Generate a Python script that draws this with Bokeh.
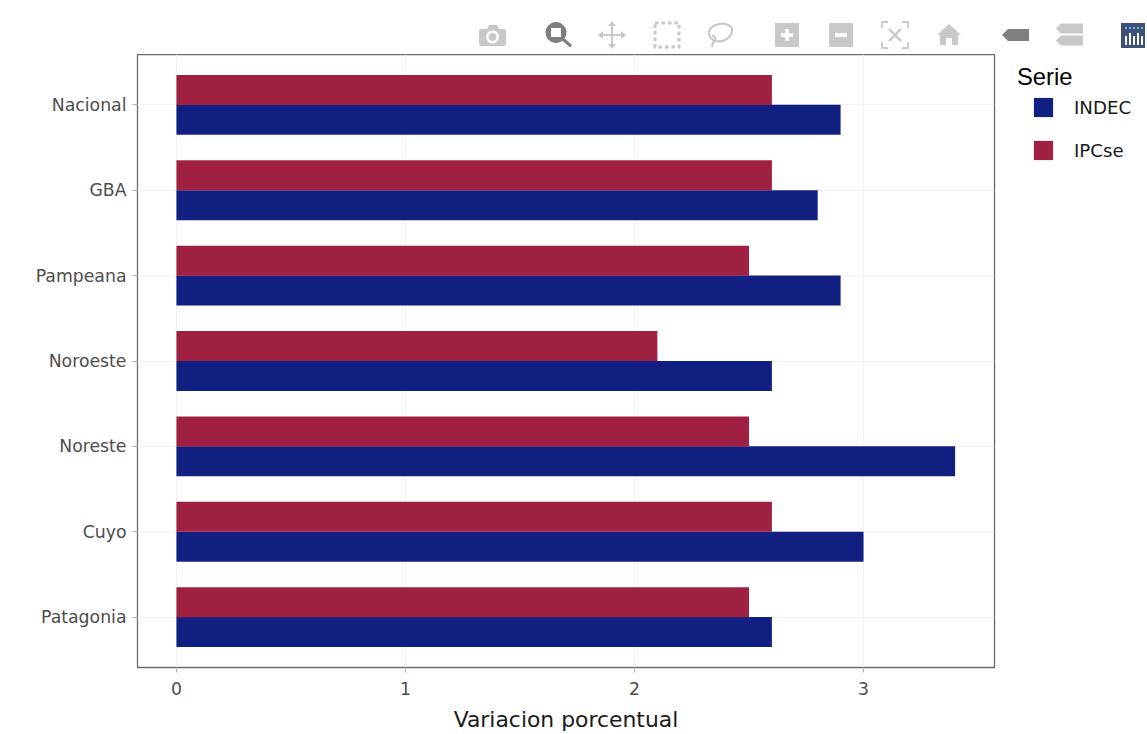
from bokeh.plotting import figure
from bokeh.models import (FactorRange, Range1d, Legend, LegendItem, Div,
                          FixedTicker, ColumnDataSource)
from bokeh.layouts import column
from bokeh.transform import dodge
from bokeh.embed import file_html
from bokeh.resources import INLINE

regions = ["Nacional", "GBA", "Pampeana", "Noroeste", "Noreste", "Cuyo", "Patagonia"]
indec = [2.9, 2.8, 2.9, 2.6, 3.4, 3.0, 2.6]
ipcse = [2.6, 2.6, 2.5, 2.1, 2.5, 2.6, 2.5]
x_ticks = [0, 1, 2, 3]
series_names = ["INDEC", "IPCse"]
series_colors = ["#111F81", "#A02042"]
legend_title = "Serie"
FONT = "DejaVu Sans"

source = ColumnDataSource(dict(region=regions, INDEC=indec, IPCse=ipcse))

p = figure(
    width=1147, height=680, frame_width=857, frame_height=613,
    min_border_left=137, min_border_top=0, min_border_right=153, min_border_bottom=67,
    x_range=Range1d(-0.17, 3.572),
    y_range=FactorRange(factors=regions[::-1], range_padding=0.09,
                        range_padding_units="absolute", factor_padding=0),
    output_backend="svg", toolbar_location=None, background_fill_color="white",
    border_fill_color="white", border_fill_alpha=0,
)

r1 = p.hbar(y=dodge("region", -0.175, range=p.y_range), left=0, right="INDEC", height=0.352,
            source=source, fill_color=series_colors[0], line_color=None)
r2 = p.hbar(y=dodge("region", 0.175, range=p.y_range), left=0, right="IPCse", height=0.352,
            source=source, fill_color=series_colors[1], line_color=None)

p.outline_line_color = "#6b6b6b"
p.outline_line_width = 1.3

p.xgrid.grid_line_color = "#f2f2f2"
p.ygrid.grid_line_color = "#f2f2f2"
p.xgrid.ticker = FixedTicker(ticks=x_ticks)

for ax in (p.xaxis[0], p.yaxis[0]):
    ax.axis_line_color = None
    ax.major_tick_line_color = "#b3b3b3"
    ax.major_tick_line_width = 1
    ax.major_tick_in = 0
    ax.major_tick_out = 5
    ax.minor_tick_line_color = None
    ax.major_label_text_font = FONT
    ax.major_label_text_font_size = "17.3px"
    ax.major_label_text_color = "#4d4d4d"
    ax.major_label_standoff = 6

p.xaxis[0].ticker = FixedTicker(ticks=x_ticks)
p.xaxis[0].major_label_standoff = 9
p.xaxis.axis_label = "Variacion porcentual"
p.xaxis.axis_label_text_font = FONT
p.xaxis.axis_label_text_font_style = "normal"
p.xaxis.axis_label_text_font_size = "21.9px"
p.xaxis.axis_label_text_color = "#1a1a1a"
p.xaxis.axis_label_standoff = 9

legend = Legend(
    items=[LegendItem(label=series_names[0], renderers=[r1]),
           LegendItem(label=series_names[1], renderers=[r2])],
    location=(37, 505), orientation="vertical", padding=0, margin=0, spacing=19,
    glyph_width=24, glyph_height=24, label_standoff=19, border_line_color=None,
    background_fill_alpha=0, label_text_font=FONT, label_text_font_size="18.2px",
    label_text_color="#1a1a1a", label_height=24,
)
p.add_layout(legend, "right")

# Mode bar drawn as inline SVG, in page pixels; the legend heading overflows it downward
G = "#c8c8c8"
D = "#7f7f7f"
icons = f'''
<svg xmlns="http://www.w3.org/2000/svg" width="1147" height="100" viewBox="0 0 1147 100" style="display:block;overflow:visible;position:relative;z-index:10">
 <text x="1017" y="85" font-family="DejaVu Sans" font-size="23.800" fill="#000000">{legend_title}</text>
 <g fill="{G}">
  <path fill-rule="evenodd" d="M481 29h6l2-4h8l2 4h5a2 2 0 0 1 2 2v13a2 2 0 0 1-2 2h-23a2 2 0 0 1-2-2V31a2 2 0 0 1 2-2zM492.500 30.500a6.500 6.500 0 1 0 .01 0zM492.500 33a4 4 0 1 1-.01 0z"/>
 </g>
 <g fill="{D}" stroke="none">
  <path fill-rule="evenodd" d="M556 22a10.500 10.500 0 1 0 .01 0zM551 28h10v9h-10z"/>
  <path d="M563 37l9 8-2 2.500-9-8z"/>
 </g>
 <g fill="none" stroke="{G}" stroke-width="2.200">
  <path d="M612 23v24M600 35h24"/>
 </g>
 <g fill="{G}">
  <path d="M612 21l4 5h-8zM612 49l4-5h-8zM598 35l5-4v8zM626 35l-5-4v8z"/>
 </g>
 <rect x="655" y="23" width="24" height="24" fill="none" stroke="{G}" stroke-width="3" stroke-dasharray="3.500 3"/>
 <g fill="none" stroke="{G}" stroke-width="2.200">
  <path d="M716 41c8 2 16-4 16-11 0-5-7-7-13-6-6 1-11 5-10 10 .5 3 3 6 7 7z"/>
  <path d="M712 36a3 3 0 1 1 1 6M713 42l-1 5"/>
 </g>
 <g fill="{G}">
  <path fill-rule="evenodd" d="M775 23h24v24h-24zM785 29v4h-4v4h4v4h4v-4h4v-4h-4v-4z"/>
  <path fill-rule="evenodd" d="M829 23h24v24h-24zM835 33v4h12v-4z"/>
 </g>
 <g fill="none" stroke="{G}" stroke-width="1.800">
  <path d="M888 22h-6v6M902 22h6v6M888 48h-6v-6M902 48h6v-6"/>
  <path d="M889 29l12 12M901 29l-12 12" stroke-width="2.400"/>
 </g>
 <path d="M949 24l12 11h-3v10h-6v-7h-6v7h-6V35h-3z" fill="{G}"/>
 <path d="M1002 35l6-6h21v12h-21z" fill="{D}"/>
 <g fill="{G}">
  <path d="M1056 29l5-5h22v10h-22z" transform="translate(0 -.5)"/>
  <path d="M1056 41l5-5h22v10h-22z" transform="translate(0 -.5)"/>
 </g>
 <rect x="1121" y="23" width="24" height="25" fill="#3d4f7c"/>
 <g fill="white">
  <rect x="1125" y="36" width="2" height="9"/><rect x="1129" y="33" width="2" height="12"/>
  <rect x="1133" y="36" width="2" height="9"/><rect x="1137" y="33" width="2" height="12"/>
  <rect x="1141" y="36" width="2" height="9"/>
 </g>
 <g fill="#69c2c0">
  <rect x="1125" y="27" width="2" height="2"/><rect x="1129" y="27" width="2" height="2"/>
  <rect x="1133" y="27" width="2" height="2"/><rect x="1137" y="27" width="2" height="2"/>
  <rect x="1141" y="27" width="2" height="2"/>
 </g>
</svg>
'''
bar = Div(text=icons, width=1147, height=54, margin=0,
          styles={"overflow": "visible", "z-index": "10", "position": "relative"})

page = column(bar, p, spacing=0, margin=0)
open("out.html", "w").write(file_html(page, INLINE))
